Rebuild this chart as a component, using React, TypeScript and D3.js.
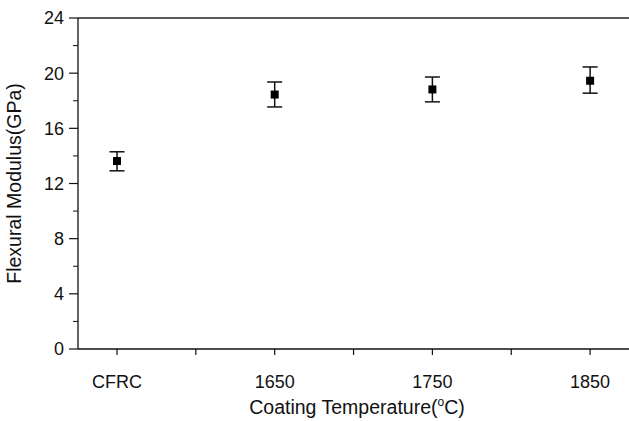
import * as d3 from "d3";

const categories = ["CFRC", "1650", "1750", "1850"];
const modulus = [13.63, 18.45, 18.82, 19.45];
const errLow = [12.92, 17.55, 17.92, 18.55];
const errHigh = [14.3, 19.36, 19.72, 20.45];
const yTicks = [0, 4, 8, 12, 16, 20, 24];
const yMinor = [2, 6, 10, 14, 18, 22];
const xTicks = [0, 0.5, 1, 1.5, 2, 2.5, 3];

const W = 629;
const H = 421;
const left = 78;
const right = 629;
const top = 18;
const bottom = 349;
const font = "Liberation Sans, Arial, sans-serif";

export default function App() {
  const x = d3.scaleLinear().domain([-0.2473, 3.2467]).range([left, right]);
  const y = d3.scaleLinear().domain([0, 24]).range([bottom, top]);

  return (
    <svg
      width={W}
      height={H}
      style={{ position: "absolute", left: 0, top: 0, background: "#fff" }}
      fontFamily={font}
    >
      {/* frame */}
      <line x1={left} x2={right} y1={top} y2={top} stroke="#222" strokeWidth={1.3} />
      <line x1={left} x2={left} y1={top} y2={bottom} stroke="#111" strokeWidth={1.3} />
      <line x1={left} x2={right} y1={bottom} y2={bottom} stroke="#111" strokeWidth={1.3} />

      {/* y ticks */}
      {yTicks.map((t) => (
        <g key={"y" + t}>
          <line x1={left - 9} x2={left} y1={y(t)} y2={y(t)} stroke="#111" strokeWidth={1.2} />
          <text x={left - 14} y={y(t)} dy="0.36em" textAnchor="end" fontSize={18} fill="#111">
            {t}
          </text>
        </g>
      ))}
      {yMinor.map((t) => (
        <line key={"ym" + t} x1={left - 5} x2={left} y1={y(t)} y2={y(t)} stroke="#111" strokeWidth={1} />
      ))}

      {/* x ticks */}
      {xTicks.map((t) => (
        <line key={"x" + t} x1={x(t)} x2={x(t)} y1={bottom} y2={bottom + 6} stroke="#111" strokeWidth={1.2} />
      ))}
      {categories.map((c, i) => (
        <text key={c} x={x(i)} y={388} textAnchor="middle" fontSize={18} fill="#111">
          {c}
        </text>
      ))}

      {/* error bars and markers */}
      {categories.map((c, i) => (
        <g key={"d" + c} stroke="#111" strokeWidth={1.5}>
          <line x1={x(i)} x2={x(i)} y1={y(errLow[i])} y2={y(errHigh[i])} />
          <line x1={x(i) - 7.5} x2={x(i) + 7.5} y1={y(errLow[i])} y2={y(errLow[i])} />
          <line x1={x(i) - 7.5} x2={x(i) + 7.5} y1={y(errHigh[i])} y2={y(errHigh[i])} />
          <rect x={x(i) - 4} y={y(modulus[i]) - 4} width={8} height={8} fill="#000" stroke="none" />
        </g>
      ))}

      {/* axis titles */}
      <text x={357} y={414} textAnchor="middle" fontSize={19.5} fill="#111">
        Coating Temperature(
        <tspan fontSize={12} dy={-8}>o</tspan>
        <tspan dy={8}>C)</tspan>
      </text>
      <text
        transform={`translate(21,${(top + bottom) / 2}) rotate(-90)`}
        textAnchor="middle"
        fontSize={19.5}
        fill="#111"
      >
        Flexural Modulus(GPa)
      </text>
    </svg>
  );
}
